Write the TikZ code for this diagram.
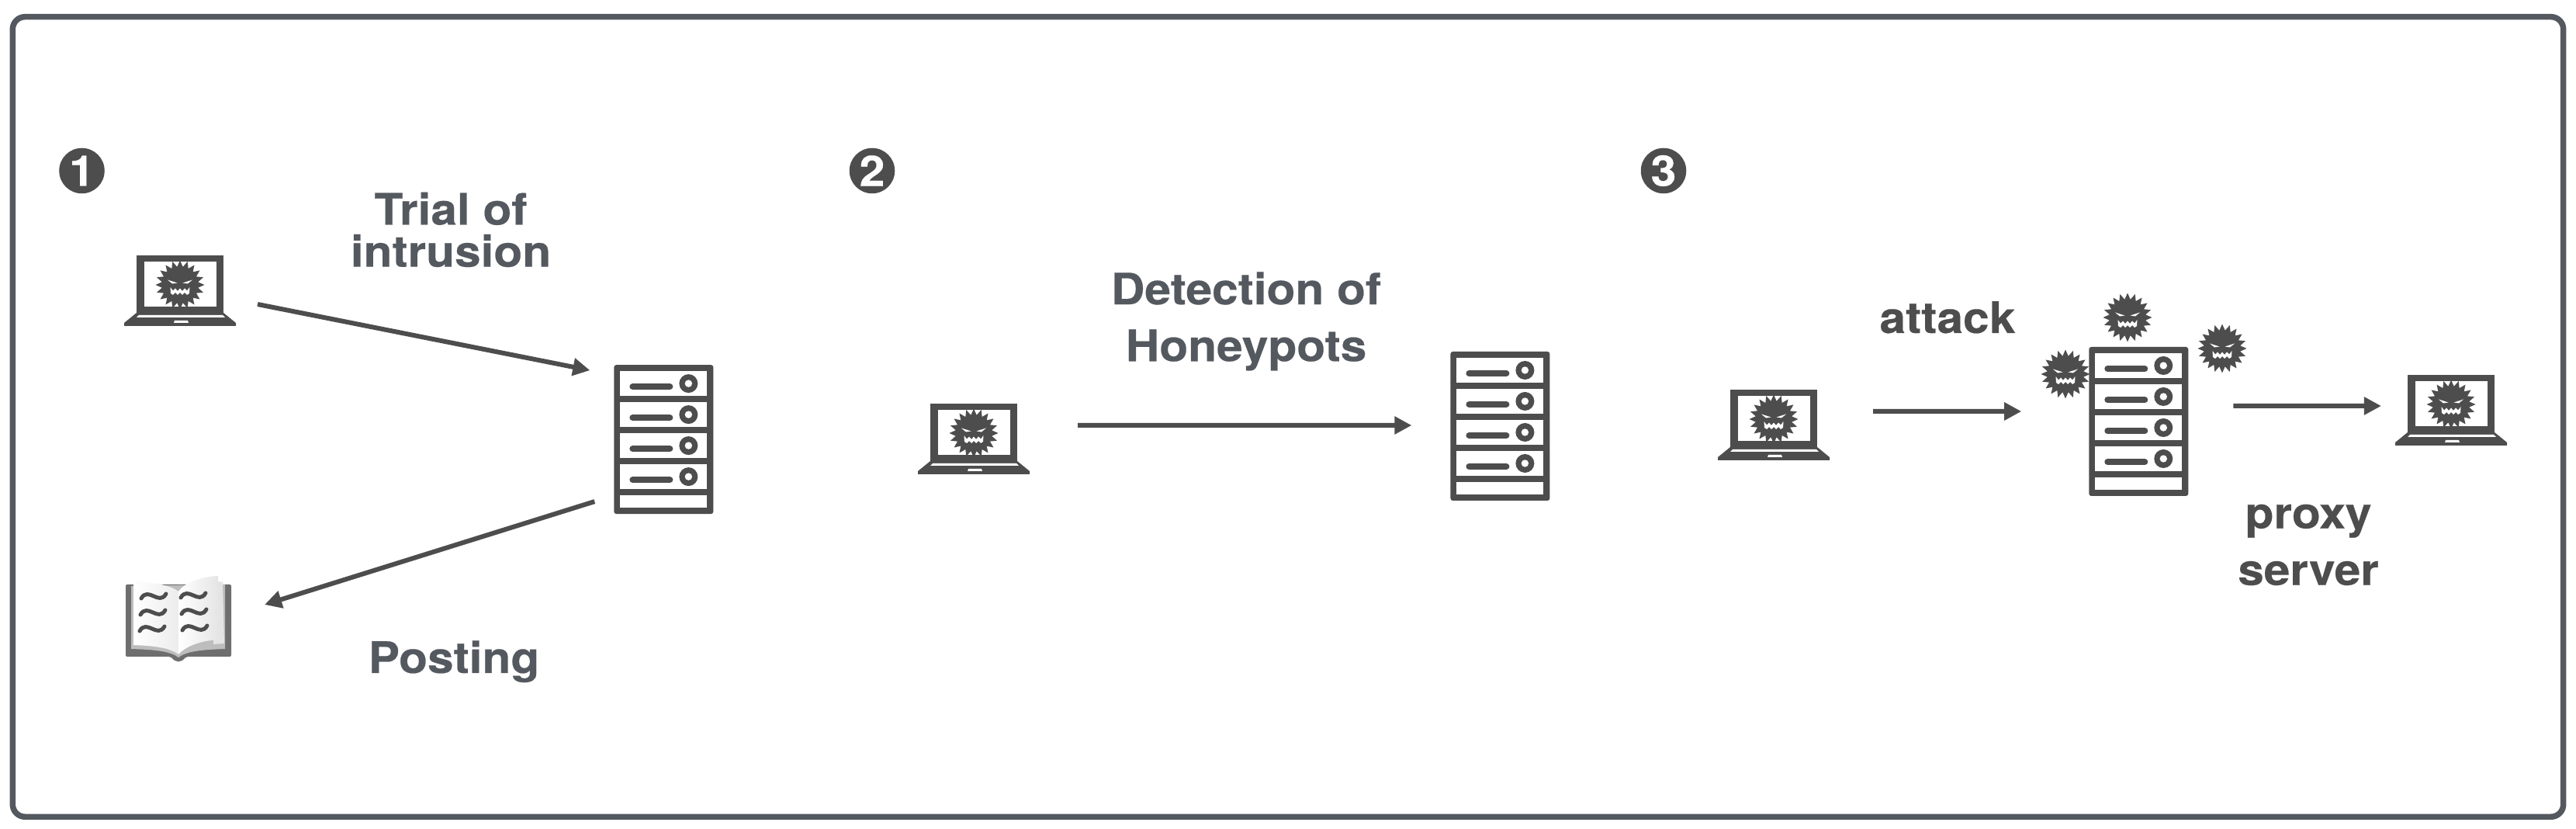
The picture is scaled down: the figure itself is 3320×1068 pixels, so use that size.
\documentclass[tikz,border=0pt]{standalone}
\usepackage{fontspec}
\setmainfont{TeX Gyre Heros}[FakeStretch=1.08, BoldFeatures={FakeBold=0.35}]
\usepackage{tikz}
\usetikzlibrary{arrows.meta,positioning,shapes.geometric}
\usepackage{xcolor}
\definecolor{iconGray}{HTML}{4D4D4D}
\definecolor{labelSlate}{HTML}{54585F}
\definecolor{coverGray}{HTML}{6E6E6E}
\definecolor{stackGray}{HTML}{BDBDBD}
\definecolor{pageGray}{HTML}{E4E4E4}

\begin{document}
\begin{tikzpicture}[
    x=0.01cm, y=-0.01cm,
    panel/.style={rectangle, draw=labelSlate, line width=0.75mm, rounded corners=1.6mm,
                  minimum width=32.855cm, minimum height=10.3cm},
    badge/.style={circle, fill=iconGray, text=white, minimum size=5.85mm, inner sep=0pt,
                  font=\fontsize{15.5}{15.5}\selectfont\bfseries},
    label/.style={align=center, text=labelSlate, font=\fontsize{15.9}{15.4}\selectfont\bfseries},
    wide/.style={label, font=\fontsize{15.9}{20.8}\selectfont\bfseries},
    darklabel/.style={wide, text=iconGray},
    laptopbox/.style={rectangle, minimum width=1.44cm, minimum height=0.91cm, inner sep=0pt, outer sep=0pt},
    serverbox/.style={rectangle, minimum width=1.28cm, minimum height=1.92cm, inner sep=0pt, outer sep=0pt},
    bookbox/.style={rectangle, minimum width=1.36cm, minimum height=1.08cm, inner sep=0pt, outer sep=0pt},
    monsterbox/.style={circle, minimum size=0.63cm, inner sep=0pt, outer sep=0pt},
    arrow/.style={-{Triangle[length=2.2mm, width=2.2mm]}, line width=0.6mm, iconGray},
    monster/.pic={
        \fill[iconGray] (90:31.5) \foreach \k in {1,...,39} { -- ({90+9*\k}:{isodd(\k) ? 23.5 : 31.5}) } -- cycle;
        \fill[white] (-16,-6.5) -- (-3.5,-2.5) -- (-10,-1.5) -- cycle;
        \fill[white] (16,-6.5) -- (3.5,-2.5) -- (10,-1.5) -- cycle;
        \fill[white] (-12.5,3) -- (-9,7.5) -- (-6,4.5) -- (-3,8) -- (0,4.5) -- (3,8) -- (6,4.5) -- (9,7.5) -- (12.5,3)
            -- (12,11) -- (9,13) -- (6,10) -- (3,13) -- (0,10) -- (-3,13) -- (-6,10) -- (-9,13) -- (-12,11) -- cycle;
    },
    laptop/.pic={
        \fill[iconGray] (-56,-46) rectangle (56,28);
        \fill[white] (-46,-38) rectangle (47,20);
        \fill[iconGray] (-56,28) -- (56,28) -- (72,41) -- (72,45) -- (-72,45) -- (-72,41) -- cycle;
        \fill[white] (-53,31) -- (55,31) -- (58,34) -- (-56,34) -- cycle;
        \fill[white] (-7,38) -- (10,38) -- (11,41) -- (-8,41) -- cycle;
        \pic at (0,-8) {monster};
    },
    server/.pic={
        \fill[iconGray, rounded corners=0.3mm] (-64,-96) rectangle (64,96);
        \foreach \r in {0,1,2,3} {
            \fill[white] (-56,{-88+40*\r}) rectangle (56,{-56+40*\r});
            \draw[iconGray, line width=0.8mm, line cap=round] (-40,{-68+40*\r}) -- (8,{-68+40*\r});
            \fill[iconGray] (32,{-72+40*\r}) circle (12);
            \fill[white] (32,{-72+40*\r}) circle (4.7);
        }
        \fill[white] (-56,72) rectangle (56,88);
    },
    openbook/.pic={
        \fill[coverGray, rounded corners=0.2mm] (-68,-47) -- (68,-47) -- (68,46) -- (10,46)
            .. controls (3,54) and (-3,54) .. (-10,46) -- (-68,46) -- cycle;
        \fill[stackGray] (-61,-45) -- (60,-47) -- (60,36) .. controls (30,37) and (10,39) .. (0,47)
            .. controls (-10,39) and (-30,37) .. (-61,36) -- cycle;
        \fill[pageGray] (45,-52) -- (57,-50) -- (59,29) -- (45,30) -- cycle;
        \shade[left color=white, right color=pageGray!70] (0,-38) .. controls (-8,-45) and (-30,-50) .. (-58,-51)
            -- (-58,31) .. controls (-30,32) and (-10,35) .. (0,43) -- cycle;
        \shade[left color=white, right color=pageGray] (0,-38) .. controls (8,-50) and (30,-57) .. (51,-58)
            -- (53,24) .. controls (30,25) and (10,32) .. (0,43) -- cycle;
        \foreach \cx/\cy in {-32/-32,-33/-11,-34/10,19/-33,20/-12,21/9} {
            \draw[iconGray, line width=0.5mm, line cap=round] (\cx-16,\cy+3)
                .. controls (\cx-7,\cy-13) and (\cx+7,\cy+13) .. (\cx+16,\cy-3);
        }
    },
]
    \useasboundingbox (0,0) rectangle (3320,1068);
    \node[panel] (frame) at (1660,537) {};

    % step numbers
    \node[badge] (num1) at (105.5,220) {1};
    \node[badge] (num2) at (1124,220) {2};
    \node[badge] (num3) at (2144,220) {3};

    % first stage
    \node[laptopbox] (lapA) at (232,375) {};
    \node[serverbox, right=4.87cm of lapA, yshift=-1.91cm] (srvA) {};
    \node[bookbox] (book) at (230,800) {};
    \node[label] (trial) at (581,296) {Trial of\\intrusion};
    \node[label, anchor=base] (posting) at (585,867) {Posting};
    \draw[arrow] ([shift={(28,17)}]lapA.east) -- ([shift={(-31,-89)}]srvA.west);
    \draw[arrow] ([shift={(-25,80)}]srvA.west) -- ([shift={(43,-21)}]book.east);

    % second stage
    \node[laptopbox] (lapB) at (1255,566) {};
    \node[serverbox, right=5.42cm of lapB, yshift=0.17cm] (srvB) {};
    \node[wide] (detect) at (1606,414) {Detection of\\Honeypots};
    \draw[arrow] ([shift={(62,-18)}]lapB.east) -- ([shift={(-50,-1)}]srvB.west);

    % third stage
    \node[laptopbox] (lapC) at (2286,548) {};
    \node[serverbox, right=3.34cm of lapC, yshift=0.05cm] (srvC) {};
    \node[monsterbox] (monA) at (2742,409) {};
    \node[monsterbox] (monB) at (2864,449) {};
    \node[monsterbox] (monC) at (2662,482) {};
    \node[laptopbox] (lapD) at (3159,529) {};
    \node[darklabel, anchor=base] (attack) at (2510,429) {attack};
    \node[darklabel] (proxy) at (2975,702) {proxy\\server};
    \draw[arrow] ([shift={(56,-18)}]lapC.east) -- ([shift={(-87,-13)}]srvC.west);
    \draw[arrow] ([shift={(58,-20)}]srvC.east) -- ([shift={(-18,-6)}]lapD.west);

    % icons on top of the empty boxes
    \foreach \n in {lapA,lapB,lapC,lapD} \pic at (\n) {laptop};
    \foreach \n in {srvA,srvB,srvC} \pic at (\n) {server};
    \foreach \n in {monA,monB,monC} \pic at (\n) {monster};
    \pic at (book) {openbook};
\end{tikzpicture}
\end{document}
